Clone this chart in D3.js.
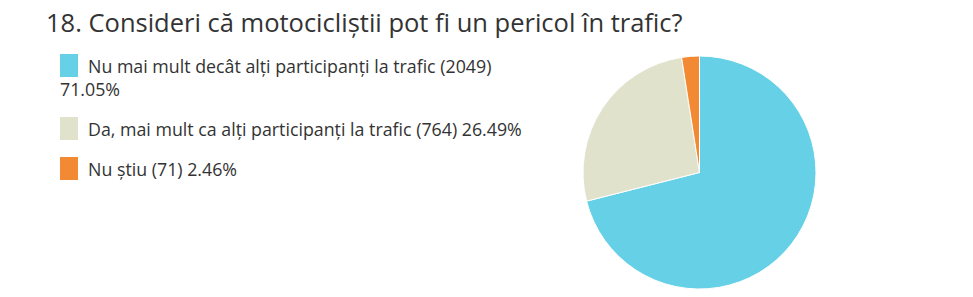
<!DOCTYPE html>
<html>
<head>
<meta charset="utf-8">
<script src="https://cdn.jsdelivr.net/npm/d3@7"></script>
<style>
  html, body { margin: 0; padding: 0; background: #fff; }
  svg { display: block; font-family: "Open Sans", sans-serif; }
</style>
</head>
<body>
<svg id="chart" width="973" height="297"></svg>
<script>
// Survey question and answer breakdown
const title = "18. Consideri că motocicliștii pot fi un pericol în trafic?";
const categories = [
  "Nu mai mult decât alți participanți la trafic",
  "Da, mai mult ca alți participanți la trafic",
  "Nu știu"
];
const counts = [2049, 764, 71];
const percents = ["71.05%", "26.49%", "2.46%"];
const colors = ["#66d1e6", "#e0e2cc", "#f28a33"];

const data = categories.map((c, i) => ({ label: c, count: counts[i], pct: percents[i], color: colors[i] }));

const svg = d3.select("#chart");

svg.append("text")
  .attr("x", 46).attr("y", 31.5)
  .attr("font-size", 25.5)
  .attr("fill", "#333")
  .text(title);

// Legend
const legend = svg.append("g");
const legendRows = [
  { y: 54, lines: [`${data[0].label} (${data[0].count})`, data[0].pct] },
  { y: 117, lines: [`${data[1].label} (${data[1].count}) ${data[1].pct}`] },
  { y: 157, lines: [`${data[2].label} (${data[2].count}) ${data[2].pct}`] }
];
legendRows.forEach((row, i) => {
  legend.append("rect")
    .attr("x", 60).attr("y", row.y)
    .attr("width", 18).attr("height", 23)
    .attr("fill", data[i].color);
  const t = legend.append("text")
    .attr("font-size", 17.8)
    .attr("fill", "#333");
  row.lines.forEach((line, j) => {
    t.append("tspan")
      .attr("x", j === 0 ? 88 : 60)
      .attr("y", row.y + 19 + j * 22.5)
      .text(line);
  });
});

// Pie
const cx = 699.5, cy = 172.5, r = 116.5;
const pie = d3.pie().sort(null).value(d => d.count);
const arc = d3.arc().innerRadius(0).outerRadius(r);

svg.append("g")
  .attr("transform", `translate(${cx},${cy})`)
  .selectAll("path")
  .data(pie(data))
  .join("path")
  .attr("d", arc)
  .attr("fill", d => d.data.color)
  .attr("stroke", "#fff")
  .attr("stroke-width", 1);
</script>
</body>
</html>
